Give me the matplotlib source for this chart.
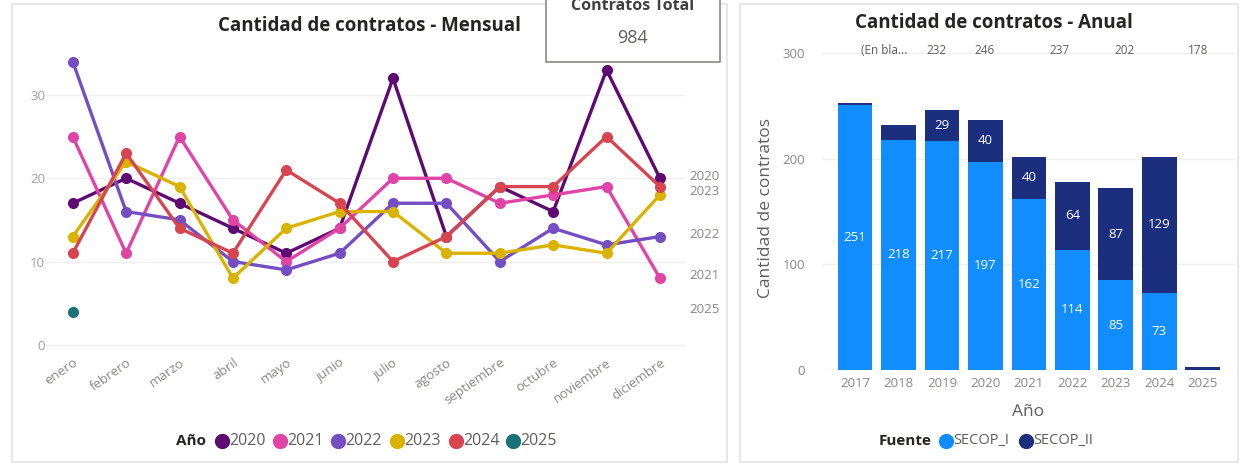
import matplotlib
matplotlib.use("Agg")
import matplotlib.pyplot as plt
from matplotlib.patches import Rectangle
from matplotlib.lines import Line2D

plt.rcParams['font.family'] = ['Open Sans', 'DejaVu Sans']

# ---------------- data ----------------
meses = ["enero", "febrero", "marzo", "abril", "mayo", "junio", "julio",
         "agosto", "septiembre", "octubre", "noviembre", "diciembre"]
anios_linea = ["2020", "2021", "2022", "2023", "2024", "2025"]
v2020 = [17, 20, 17, 14, 11, 14, 32, 13, 19, 16, 33, 20]
v2021 = [25, 11, 25, 15, 10, 14, 20, 20, 17, 18, 19, 8]
v2022 = [34, 16, 15, 10, 9, 11, 17, 17, 10, 14, 12, 13]
v2023 = [13, 22, 19, 8, 14, 16, 16, 11, 11, 12, 11, 18]
v2024 = [11, 23, 14, 11, 21, 17, 10, 13, 19, 19, 25, 19]
v2025 = [4]
colores_linea = ["#5E0A72", "#E044A7", "#744EC2", "#D9B300", "#D64550", "#197278"]
etiquetas_fin = ["2020", "2023", "2022", "2021", "2025"]
etiquetas_fin_y = [20.2, 18.4, 13.3, 8.3, 4.2]

anios_barra = ["2017", "2018", "2019", "2020", "2021", "2022", "2023", "2024", "2025"]
secop_i = [251, 218, 217, 197, 162, 114, 85, 73, 0]
secop_ii = [2, 14, 29, 40, 40, 64, 87, 129, 3]
fila_superior = ["(En bla...", "232", "246", "237", "202", "178"]
fila_superior_x = [0.67, 1.88, 2.99, 4.71, 6.2, 7.9]

total_contratos = "984"

# ---------------- figure ----------------
W, H = 1243, 466
fig = plt.figure(figsize=(W / 100, H / 100), dpi=100)
fig.patch.set_facecolor("white")

def fx(px):
    return px / W

def fy(py):
    return 1 - py / H

# panel borders
fig.add_artist(Rectangle((fx(12), fy(462)), fx(727) - fx(12), fy(4) - fy(462),
                         transform=fig.transFigure, fill=False, ec="#E3E3E3", lw=1.2))
fig.add_artist(Rectangle((fx(740), fy(462)), fx(1238) - fx(740), fy(4) - fy(462),
                         transform=fig.transFigure, fill=False, ec="#E3E3E3", lw=1.2))

grey_tick = "#8A8886"
title_col = "#252423"
navy = "#1C2E7E"
blue = "#118DFF"

# ---------------- left: line chart ----------------
axL = fig.add_axes([fx(45), fy(349), fx(685) - fx(45), fy(45) - fy(349)])
series = [v2020, v2021, v2022, v2023, v2024, v2025]
for vals, col in zip(series, colores_linea):
    xs = list(range(len(vals)))
    axL.plot(xs, vals, color=col, lw=2.4, marker="o", ms=7, zorder=3,
             solid_capstyle="round")
axL.set_xlim(-0.52, 11.47)
axL.set_ylim(-0.5, 36)
axL.set_yticks([0, 10, 20, 30])
axL.set_yticklabels(["0", "10", "20", "30"], fontsize=9.5, color="#A19F9D")
axL.set_xticks(range(12))
axL.set_xticklabels(meses, rotation=35, ha="right", rotation_mode="anchor",
                    fontsize=9.5, color=grey_tick)
axL.tick_params(axis="y", length=0, pad=0)
axL.tick_params(axis="x", length=0, pad=5)
axL.grid(axis="y", color="#F0F0F0", lw=1)
axL.set_axisbelow(True)
for s in axL.spines.values():
    s.set_visible(False)
for lab, yv in zip(etiquetas_fin, etiquetas_fin_y):
    axL.text(11.55, yv, lab, fontsize=9.5, color=grey_tick, va="center",
             ha="left", clip_on=False)

fig.text(fx(370), fy(26), "Cantidad de contratos - Mensual", ha="center",
         va="center", fontsize=13.5, fontweight="bold", color=title_col)

# legend left
fig.text(fx(206), fy(441), "Año", ha="right", va="center", fontsize=11,
         fontweight="bold", color=title_col)
leg_x = [222, 280, 338, 397, 456, 513]
for xpx, lab, col in zip(leg_x, anios_linea, colores_linea):
    fig.add_artist(Line2D([fx(xpx)], [fy(441)], marker="o", ms=10, color=col,
                          transform=fig.transFigure, ls="none"))
    fig.text(fx(xpx + 7), fy(441), lab, ha="left", va="center", fontsize=11.5,
             color="#605E5C")

# card
fig.add_artist(Rectangle((fx(546), fy(62)), fx(720) - fx(546), fy(-5) - fy(62),
                         transform=fig.transFigure, fc="white", ec="#8A8886",
                         lw=1.2, zorder=10))
fig.text(fx(633), fy(6), "Contratos Total", ha="center", va="center",
         fontsize=11.5, fontweight="bold", color="#404040", zorder=11)
fig.text(fx(633), fy(38), total_contratos, ha="center", va="center",
         fontsize=13, color="#605E5C", zorder=11)

# ---------------- right: bar chart ----------------
axR = fig.add_axes([fx(822), fy(370), fx(1235) - fx(822), fy(45) - fy(370)])
xb = list(range(len(anios_barra)))
axR.bar(xb, secop_i, width=0.8, color=blue, zorder=3)
axR.bar(xb, secop_ii, width=0.8, bottom=secop_i, color=navy, zorder=3)
for x, a, b in zip(xb, secop_i, secop_ii):
    if a >= 20:
        axR.text(x, a / 2, str(a), ha="center", va="center", color="white",
                 fontsize=9.5, zorder=4)
    if b >= 20:
        axR.text(x, a + b / 2, str(b), ha="center", va="center", color="white",
                 fontsize=9.5, zorder=4)
axR.set_xlim(-0.76, 8.74)
axR.set_ylim(0, 307.6)
axR.set_yticks([0, 100, 200, 300])
axR.set_yticklabels(["0", "100", "200", "300"], fontsize=9.5, color=grey_tick)
axR.set_xticks(xb)
axR.set_xticklabels(anios_barra, fontsize=9.5, color=grey_tick)
axR.tick_params(length=0)
axR.tick_params(axis="y", pad=12)
axR.tick_params(axis="x", pad=5)
axR.grid(axis="y", color="#F0F0F0", lw=1)
axR.set_axisbelow(True)
for s in axR.spines.values():
    s.set_visible(False)
axR.set_xlabel("Año", fontsize=12.5, color="#605E5C", labelpad=10)
axR.set_ylabel("Cantidad de contratos", fontsize=12.5, color="#605E5C", labelpad=6)
for lab, xv in zip(fila_superior, fila_superior_x):
    axR.text(xv, 302, lab, ha="center", va="center", fontsize=8.5,
             color="#605E5C", clip_on=False)

fig.text(fx(994), fy(23), "Cantidad de contratos - Anual", ha="center",
         va="center", fontsize=13.5, fontweight="bold", color=title_col)

# legend right
fig.text(fx(931), fy(441), "Fuente", ha="right", va="center", fontsize=11,
         fontweight="bold", color=title_col)
for xpx, lab, col in zip([946, 1026], ["SECOP_I", "SECOP_II"], [blue, navy]):
    fig.add_artist(Line2D([fx(xpx)], [fy(441)], marker="o", ms=10, color=col,
                          transform=fig.transFigure, ls="none"))
    fig.text(fx(xpx + 7), fy(441), lab, ha="left", va="center", fontsize=10.5,
             color="#605E5C")

fig.savefig("out.png", dpi=100, facecolor="white")
